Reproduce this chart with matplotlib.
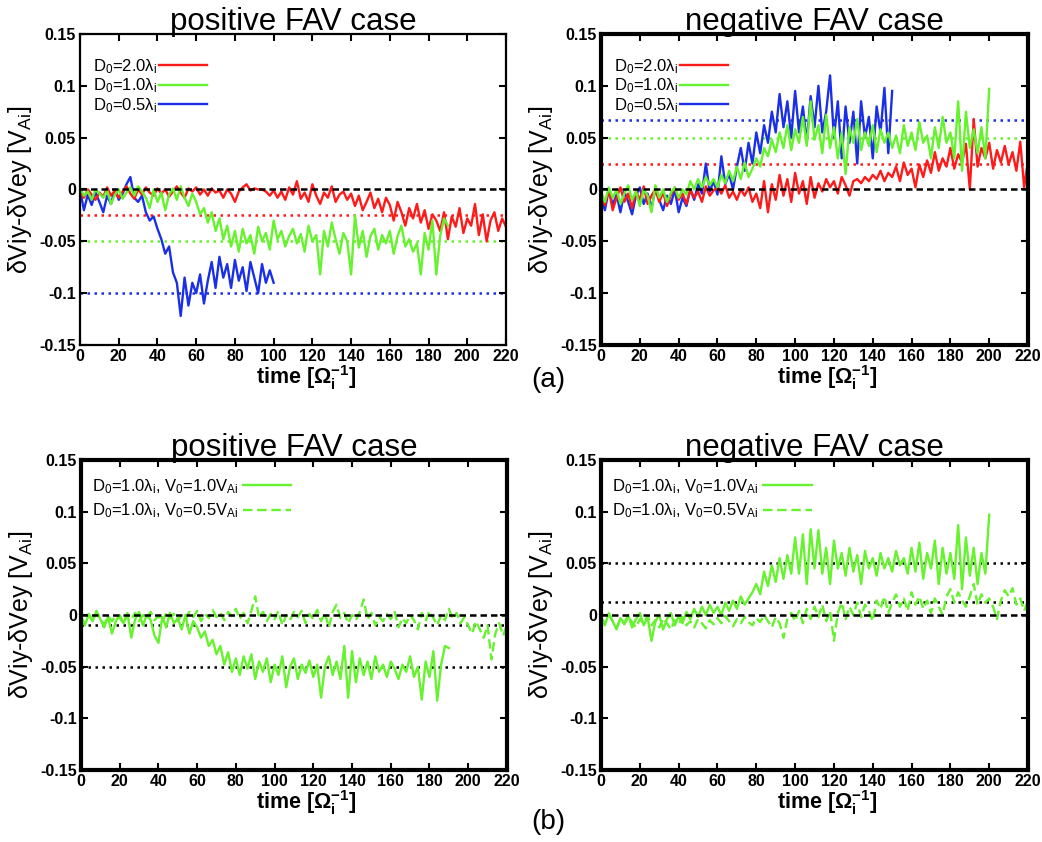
import numpy as np
import matplotlib
matplotlib.use("Agg")
import matplotlib.pyplot as plt

plt.rcParams['font.family'] = ['Liberation Sans', 'DejaVu Sans']
plt.rcParams['mathtext.fontset'] = 'custom'
plt.rcParams['mathtext.rm'] = 'Liberation Sans'
plt.rcParams['mathtext.it'] = 'Liberation Sans:italic'
plt.rcParams['mathtext.bf'] = 'Liberation Sans:bold'
plt.rcParams['mathtext.default'] = 'regular'
plt.rcParams['axes.unicode_minus'] = False

# sampling step of the read-off values [1/Omega_i]
dt = 2

# values in units of 1e-3 V_Ai
# (a) positive FAV
p1_red = [-2, -8, 0, -5, -10, -3, -7, 2, -6, -1,
          -8, -2, 3, -4, -9, 0, -5, 2, -3, -6,
          1, -4, 0, -7, -2, 3, -3, -8, 1, -2,
          2, -5, 0, -6, 1, -3, -1, -8, 0, -4,
          -12, -2, 2, 5, -1, 1, 0, 0, -2, -6,
          -1,
          -8, -2, -10, 2, -5, 8, -9, -3, -12, 5,
          -6, -14, -3, -8, 3, -12, -5, -2, -10, -4,
          -16, -6, -20, -12, -3, -18, -9, -22, -8, -15,
          -30, -12, -22, -35, -18, -28, -14, -32, -20, -38, -24, -30, -40, -22, -48,
          -26, -36, -18, -42, -28, -35, -14, -44, -24, -50, -30, -22, -40, -28, -36]
p1_green = [2, -6, -2, -10, 0, -4, -8, -1, -14, -5, 0, -9, -3, 2, -6, 3, -2, -8,
            -18, 0, -12, -3, -20, -5, 1, -10, 3, -8, -16, -4, -12,
            -24, -18, -32, -22, -40, -28, -48, -35,
            -55, -40, -60, -38, -52, -44, -62, -36, -50, -42,
            -58, -30, -48, -40, -55, -45, -38, -52, -43, -60,
            -35, -50, -44, -82, -40, -55, -32, -48, -62, -42,
            -50, -82, -25, -56, -40, -65, -45, -38, -58, -44,
            -52, -40, -62, -45, -35, -55, -48, -60, -52, -82,
            -42, -58, -30, -82, -45, -28, -35]
p1_blue = [0, -20, -5, -15, -3, -12, -22, -6, -14, 0,
           -10, -4, 5, 12, -8, -12, -6, -22, -30, -26,
           -38, -48, -62, -55, -80, -90, -122, -85, -112, -90,
           -100, -82, -110, -88, -70, -95, -65, -85, -72, -95,
           -68, -88, -75, -98, -70, -85, -100, -72, -90, -78,
           -90]
p1_refs = [-25, -50, -100]

# (a) negative FAV
p2_red = [-5, -15, 0, -20, -8, 2, -12, -4, -18, -2,
          -10, 3, -14, -6, 0, -12, -3, -16, -5, 2,
          -10, -4, -14, 0, -8, -2, -12, 3, -6, -1, 2,
          -4, 4, -8, -2, -10, 0, -6, 2, -12, -4,
          -18, 8, -22, 5, -10, 14, -6, 10, -12, 16, -4, 8, -14, 12, -8,
          6, -2, 10, 2, 8, -4, 12, 4, -6, 8,
          10, 6, 12, 8, 14, 10, 18, 8, 16, 12,
          22, 8, 26, 14, 20, 2, 24, 12, 28, 16,
          36, 18, 30, 22, 40, 20, 34, 26, 44, 0,
          68, 22, 40, 30, 45, 20, 38, 26, 42, 24, 36, 18, 46, 2, 28]
p2_green = [-2, -12, 2, -8, 0, -14, -4, 4, -10, -2,
            -16, 0, -6, -22, 4, -8, 0, -12, -3, 2, -8, 0, -5,
            8, 0, 10, 2, 12, 4, 10, 2, 14, 6,
            18, 8, 22, 10, 26, 12, 20,
            30, 22, 40, 32, 48, 36,
            55, 40, 62, 38, 58, 45, 70, 42, 85, 48,
            62, 35, 72, 40, 60, 30, 55, 15, 60, 45,
            68, 38, 55, 42, 62, 36, 58, 45, 55, 40,
            52, 35, 62, 42, 55, 38, 65, 45, 52, 30,
            60, 40, 70, 45, 55, 30, 85, 18, 75, 40,
            58, 35, 60, 30, 97]
p2_blue = [-8, -20, 0, -15, -5, -22, -2, -12, -24, -6,
           2, -14, -4, -18, 0, -10, -20, -6, -14, 0, -22, -8, -16,
           0, -10, 5, -4, 25, -2, 8, -5,
           32, 5, 15, 0, 22,
           40, 18, 45, 25, 55, 35, 62, 45, 75, 55,
           92, 60, 85, 50, 95, 55, 80, 45, 90, 60,
           100, 55, 75, 110, 50, 85, 30, 80, 45, 75,
           25, 85, 50, 70, 30, 80, 55, 98, 35, 95]
p2_refs = [25, 50, 67]

# (b) positive FAV
p3_v10 = [-3, -10, 0, -6, 4, -4, -12, -2, -18, -6,
          0, -8, 2, -22, -4, 3, -10, 0, -5, -20,
          -27, -2, -12, 2, -8, -3, -14, 0, -18, -6, -12,
          -22, -16, -30, -24, -38, -30, -48, -36, -55,
          -42, -58, -40, -52, -38, -62, -45, -55, -42, -65,
          -48, -58, -40, -70, -50, -42, -62, -48, -56, -44,
          -60, -48, -80, -50, -40, -58, -45, -62, -30, -80,
          -35, -65, -42, -58, -45, -62, -40, -55, -48, -60,
          -45, -52, -62, -48, -55, -40, -60, -50, -82, -45,
          -60, -35, -83, -48, -30, -32]
p3_v05 = [-2, -8, 1, -5, 2, -4, -9, -1, -6, 0,
          -3, -8, 1, -4, 2, -6, 0, -3, 3, -5,
          -1, -7, 2, -3, 1, -6, 0, -4, 3, -2,
          4, -6, 1, -3, 5, -2, 2, -5, 3, -1,
          6, -4, 2, -8, 4, 18, -3, 3, -6, 1,
          -4, 4, -10, 0, -5, 3, -2, 4, -8, 1,
          -4, 5, -6, 2, -12, 3, 10, -3, 2, -8,
          0, -5, 3, 15, -4, 2, -10, -2, -6, 1,
          -4, 3, -12, -3, -8, 0, -5, -14, 2, -6,
          4, -3, -10, 0, -5, 6, -4, 2, -8, -2,
          -10, -18, -6, -14, -22, -10, -43, -18, -8, -20,
          -10]
p3_refs = [-10, -50]

# (b) negative FAV
p4_v10 = [-2, -10, 2, -6, -14, -3, -8, 0, -12, -4,
          2, -10, -2, -25, -6, 0, -14, -4, 2, -10,
          -1, -8, 3, -4, 6, -2, 8, 0, 10, 2, 8,
          0, 12, 4, 14, 6, 18, 10, 16, 22, 30,
          20, 42, 28, 48, 32, 55, 35, 58, 40, 75,
          40, 78, 30, 83, 45, 82, 40, 65, 30, 72,
          45, 60, 38, 65, 42, 58, 30, 62, 45, 55,
          38, 60, 45, 55, 42, 62, 48, 55, 40, 65,
          42, 70, 35, 60, 45, 72, 30, 65, 40, 60,
          35, 87, 25, 75, 38, 65, 30, 60, 40, 97]
p4_v05 = [-3, -8, 0, -6, -12, -4, -9, -2, -7, -12,
          -4, -8, -1, -10, -5, -12, -3, -8, -14, -5,
          -9, -2, -10, -6, -12, -4, -8, -13, -5, -9,
          -3, -8, -1, -6, -11, -4, -8, -2, -7, -10,
          -3, -7, 0, -6, -12, -2, -8, -22, -4, 2,
          -6, 4, -8, 6, -4, 8, -2, 10, -6, 4,
          -25, 2, 12, -4, 8, 0, 12, -2, 10, 4,
          -6, 14, 6, 18, 2, 12, 20, 8, 16, 4,
          22, 10, 18, 6, 14, 2, 16, 8, 0, 18,
          25, 12, 22, 14, 8, 18, 30, 10, 20, 12,
          16, 8, -4, 14, 24, 18, 26, 10, 16, 4,
          14]
p4_refs = [12.5, 50]

labels_a = ['D$_0$=2.0λ$_i$', 'D$_0$=1.0λ$_i$', 'D$_0$=0.5λ$_i$']
labels_b = ['D$_0$=1.0λ$_i$, V$_0$=1.0V$_{Ai}$', 'D$_0$=1.0λ$_i$, V$_0$=0.5V$_{Ai}$']
titles = ['positive FAV case', 'negative FAV case']
yticks = [-0.15, -0.1, -0.05, 0, 0.05, 0.1, 0.15]
ytick_labels = ['-0.15', '-0.1', '-0.05', '0', '0.05', '0.1', '0.15']
xticks = list(range(0, 221, 20))

RED = '#ff1a1a'
GREEN = '#66f22e'
BLUE = '#1a2fe8'
LW = 1.7


def series(vals):
    v = np.array(vals) * 1e-3
    t = np.arange(len(v)) * dt
    return t, v


def style_axes(ax, title, frame_lw):
    ax.set_xlim(0, 220)
    ax.set_ylim(-0.15, 0.15)
    ax.set_xticks(xticks)
    ax.set_yticks(yticks)
    ax.set_yticklabels(ytick_labels)
    ax.tick_params(direction='in', top=True, right=True, length=5,
                   width=1.5, labelsize=11.5, pad=3)
    for lab in ax.get_xticklabels() + ax.get_yticklabels():
        lab.set_fontweight('bold')
    for sp in ax.spines.values():
        sp.set_linewidth(frame_lw)
    ax.set_title(title, fontsize=22.5, pad=3)
    ax.set_xlabel('time [Ω$_i^{-1}$]', fontsize=15.5, fontweight='bold')
    ax.xaxis.set_label_coords(0.53, -0.058)
    ax.set_ylabel('δViy-δVey [V$_{Ai}$]', fontsize=18)
    ax.yaxis.set_label_coords(-0.108, 0.5)
    ax.axhline(0, color='black', ls=(0, (2.6, 1.6)), lw=1.8, zorder=4)


dot = (0, (1, 1.8))
fig = plt.figure(figsize=(10.42, 8.42), dpi=100)
ax1 = fig.add_axes([0.0768, 0.5903, 0.4088, 0.3694])
ax2 = fig.add_axes([0.5768, 0.5903, 0.4098, 0.3694])
ax3 = fig.add_axes([0.0777, 0.0855, 0.4088, 0.3682])
ax4 = fig.add_axes([0.5768, 0.0855, 0.4098, 0.3682])

# top row
for ax, red, green, blue, refs, title, flw in [
        (ax1, p1_red, p1_green, p1_blue, p1_refs, titles[0], 1.6),
        (ax2, p2_red, p2_green, p2_blue, p2_refs, titles[1], 3.0)]:
    for r, c in zip(refs, [RED, GREEN, BLUE]):
        ax.axhline(r * 1e-3, color=c, ls=dot, lw=1.8, zorder=1)
    hb, = ax.plot(*series(blue), color=BLUE, lw=LW, zorder=2)
    hr, = ax.plot(*series(red), color=RED, lw=LW, zorder=2.1)
    hg, = ax.plot(*series(green), color=GREEN, lw=LW, zorder=2.2)
    style_axes(ax, title, flw)
    ax.legend([hr, hg, hb], labels_a, loc='upper left', bbox_to_anchor=(0.03, 0.925),
              frameon=False, markerfirst=False, handlelength=2.9, handletextpad=0.1,
              labelspacing=0.05, fontsize=12, borderpad=0, borderaxespad=0)

# bottom row
for ax, v10, v05, refs, title in [
        (ax3, p3_v10, p3_v05, p3_refs, titles[0]),
        (ax4, p4_v10, p4_v05, p4_refs, titles[1])]:
    for r in refs:
        ax.axhline(r * 1e-3, color='black', ls=dot, lw=1.8, zorder=1)
    h1, = ax.plot(*series(v10), color=GREEN, lw=LW, zorder=2)
    h2, = ax.plot(*series(v05), color=GREEN, lw=LW, ls=(0, (4, 2)), zorder=2.1)
    style_axes(ax, title, 3.0)
    ax.legend([h1, h2], labels_b, loc='upper left', bbox_to_anchor=(0.025, 0.945),
              frameon=False, markerfirst=False, handlelength=2.9, handletextpad=0.3,
              labelspacing=0.35, fontsize=12, borderpad=0, borderaxespad=0)

fig.text(0.526, 0.549, '(a)', fontsize=20, ha='center', va='center')
fig.text(0.526, 0.024, '(b)', fontsize=20, ha='center', va='center')

fig.savefig('out.png', dpi=100)
